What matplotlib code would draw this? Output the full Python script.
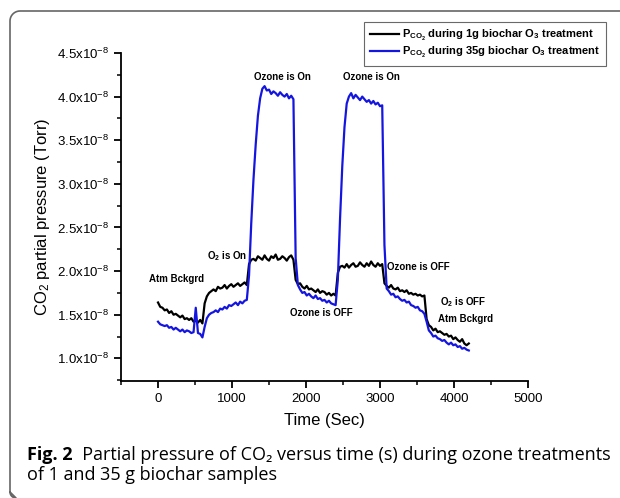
import numpy as np
import matplotlib
matplotlib.use("Agg")
import matplotlib.pyplot as plt
from matplotlib.lines import Line2D
from matplotlib.ticker import FuncFormatter, MultipleLocator

# sample times (s) and CO2 partial pressures in units of 1e-8 Torr
time_s = np.arange(0, 4201, 30)

p_1g = [
    1.64, 1.59, 1.58, 1.55, 1.56, 1.52, 1.54, 1.50, 1.51, 1.49,
    1.47, 1.49, 1.45, 1.46, 1.44, 1.46, 1.42, 1.43, 1.41, 1.44,
    1.40, 1.63, 1.71, 1.75, 1.77, 1.79, 1.77, 1.82, 1.80, 1.81,
    1.84, 1.80, 1.83, 1.85, 1.82, 1.84, 1.86, 1.83, 1.85, 1.87,
    1.84, 2.08, 2.13, 2.14, 2.12, 2.17, 2.15, 2.13, 2.18, 2.14,
    2.12, 2.17, 2.15, 2.19, 2.13, 2.14, 2.17, 2.15, 2.12, 2.16,
    2.18, 2.13, 1.90, 1.85, 1.86, 1.82, 1.80, 1.83, 1.79, 1.80,
    1.78, 1.76, 1.79, 1.75, 1.77, 1.76, 1.73, 1.75, 1.72, 1.74,
    1.72, 1.98, 2.05, 2.06, 2.04, 2.08, 2.04, 2.07, 2.09, 2.05,
    2.06, 2.10, 2.07, 2.05, 2.09, 2.06, 2.11, 2.07, 2.05, 2.09,
    2.06, 2.08, 1.86, 1.83, 1.81, 1.84, 1.80, 1.79, 1.81, 1.77,
    1.78, 1.76, 1.78, 1.74, 1.75, 1.73, 1.74, 1.72, 1.73, 1.71,
    1.72, 1.45, 1.38, 1.36, 1.32, 1.34, 1.30, 1.31, 1.29, 1.27,
    1.28, 1.25, 1.26, 1.22, 1.24, 1.21, 1.19, 1.22, 1.17, 1.15,
    1.17,
]

p_35g = [
    1.42, 1.39, 1.38, 1.37, 1.38, 1.35, 1.36, 1.33, 1.35, 1.33,
    1.31, 1.33, 1.30, 1.32, 1.31, 1.29, 1.30, 1.58, 1.29, 1.28,
    1.24, 1.36, 1.46, 1.50, 1.52, 1.53, 1.55, 1.53, 1.57, 1.56,
    1.59, 1.57, 1.61, 1.60, 1.62, 1.64, 1.61, 1.65, 1.63, 1.66,
    1.67, 1.95, 2.55, 3.05, 3.45, 3.78, 3.98, 4.09, 4.12, 4.07,
    4.08, 4.03, 4.06, 4.04, 4.01, 4.05, 4.02, 4.00, 4.03, 3.98,
    4.01, 3.97, 2.15, 1.84, 1.79, 1.75, 1.76, 1.72, 1.74, 1.71,
    1.69, 1.72, 1.68, 1.69, 1.66, 1.67, 1.64, 1.66, 1.63, 1.62,
    1.61, 1.90, 2.60, 3.20, 3.65, 3.92, 4.00, 4.04, 3.98, 4.02,
    3.99, 3.96, 4.00, 3.97, 3.94, 3.96, 3.92, 3.95, 3.91, 3.93,
    3.89, 3.90, 2.30, 1.80, 1.77, 1.73, 1.74, 1.70, 1.71, 1.68,
    1.66, 1.67, 1.64, 1.65, 1.61, 1.60, 1.58, 1.59, 1.55, 1.54,
    1.51, 1.42, 1.32, 1.29, 1.25, 1.26, 1.23, 1.22, 1.20, 1.21,
    1.18, 1.16, 1.18, 1.15, 1.16, 1.13, 1.14, 1.11, 1.12, 1.10,
    1.09,
]

series_labels = [
    r"$\mathbf{P_{CO_2}}$ during 1g biochar O$_\mathbf{3}$ treatment",
    r"$\mathbf{P_{CO_2}}$ during 35g biochar O$_\mathbf{3}$ treatment",
]

note_texts = ["Atm Bckgrd", r"O$_\mathbf{2}$ is On", "Ozone is On", "Ozone is On",
              "Ozone is OFF", "Ozone is OFF", r"O$_\mathbf{2}$ is OFF", "Atm Bckgrd"]
note_x = [243, 930, 1680, 2890, 2210, 3515, 4120, 4160]
note_y = [1.91, 2.17, 4.22, 4.22, 1.52, 2.05, 1.64, 1.45]

plt.rcParams.update({
    "font.family": ["Liberation Sans", "DejaVu Sans"],
    "mathtext.fontset": "custom",
    "mathtext.rm": "Liberation Sans",
    "mathtext.bf": "Liberation Sans:bold",
    "mathtext.it": "Liberation Sans:italic",
    "mathtext.default": "regular",
})

SCALE = 1e-8
BLUE = "#1515e0"

fig = plt.figure(figsize=(6.2, 4.98), dpi=100)
ax = fig.add_axes([0.1952, 0.2349, 0.6564, 0.6587])

ax.plot(time_s, np.array(p_1g) * SCALE, color="black", lw=1.6, label=series_labels[0])
ax.plot(time_s, np.array(p_35g) * SCALE, color=BLUE, lw=1.6, label=series_labels[1])

ax.set_xlim(-500, 5000)
ax.set_ylim(0.74 * SCALE, 4.5 * SCALE)
ax.xaxis.set_major_locator(MultipleLocator(1000))
ax.xaxis.set_minor_locator(MultipleLocator(500))
ax.yaxis.set_major_locator(MultipleLocator(0.5 * SCALE))
ax.yaxis.set_minor_locator(MultipleLocator(0.25 * SCALE))
ax.yaxis.set_major_formatter(FuncFormatter(lambda v, p: r"$\mathregular{%.1fx10^{-8}}$" % (v / SCALE)))
ax.xaxis.set_major_formatter(FuncFormatter(lambda v, p: "%d" % v))

for side in ["top", "right"]:
    ax.spines[side].set_visible(False)
for side in ["left", "bottom"]:
    ax.spines[side].set_linewidth(1.3)
ax.tick_params(which="major", direction="out", length=5, width=1.3, labelsize=9.5)
ax.tick_params(which="minor", direction="out", length=3, width=1.1)

ax.set_xlabel("Time (Sec)", fontsize=12, labelpad=6)
ax.set_ylabel(r"CO$_2$ partial pressure (Torr)", fontsize=12, labelpad=4)

for txt, x, y in zip(note_texts, note_x, note_y):
    ax.text(x, y * SCALE, txt, fontsize=7, fontweight="bold", ha="center", va="center")

handles, labels = ax.get_legend_handles_labels()
leg = fig.legend(handles, labels, loc="upper right", bbox_to_anchor=(0.978, 0.956),
                 prop={"weight": "bold", "size": 8}, frameon=True, fancybox=False,
                 handlelength=2.6, handletextpad=0.3, borderpad=0.55, labelspacing=0.2,
                 borderaxespad=0.0, edgecolor="#444444")
leg.get_frame().set_linewidth(0.8)

# caption below the plot
t1 = fig.text(27 / 620, 1 - 455 / 498, "Fig. 2", fontsize=13, fontweight="bold",
              family=["Open Sans", "DejaVu Sans"], va="center")
ax.annotate("  Partial pressure of CO\u2082 versus time (s) during ozone treatments",
            xy=(1, 0.5), xycoords=t1, va="center", fontsize=13,
            family=["Open Sans", "Noto Sans", "DejaVu Sans"], annotation_clip=False)
fig.text(27 / 620, 1 - 475 / 498, "of 1 and 35 g biochar samples", fontsize=13,
         family=["Open Sans", "DejaVu Sans"], va="center")

# rounded frame on the top and left edges
arc = np.linspace(0, np.pi / 2, 12)
bx = [620] + list(20 - 10 * np.sin(arc)) + [10, 10] + list(16 - 6 * np.cos(arc[::-1]))
by = [11] + list(21 - 10 * np.cos(arc)) + [21, 492] + list(492 + 6 * np.sin(arc[::-1]))
fig.add_artist(Line2D(np.array(bx) / 620, 1 - np.array(by) / 498, transform=fig.transFigure,
                      color="#666666", lw=1.2))

fig.savefig("out.png", dpi=100)
